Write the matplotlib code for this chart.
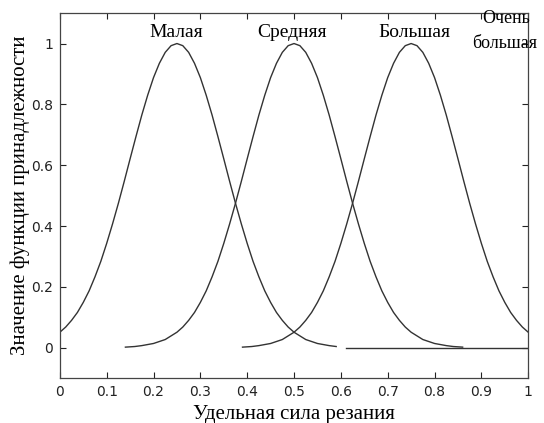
import numpy as np
import matplotlib.pyplot as plt

# half-profile of one bell curve (offset from peak -> value)
offsets = [0.0, 0.0125, 0.025, 0.0375, 0.05, 0.0625, 0.075, 0.0875, 0.1, 0.1125,
           0.125, 0.1375, 0.15, 0.1625, 0.175, 0.1875, 0.2, 0.2125, 0.225, 0.2375,
           0.25, 0.275, 0.3, 0.325, 0.34, 0.35, 0.36]
values = [1.0, 0.993, 0.971, 0.935, 0.888, 0.830, 0.765, 0.694, 0.621, 0.547,
          0.475, 0.407, 0.343, 0.284, 0.233, 0.187, 0.149, 0.116, 0.090, 0.068,
          0.051, 0.027, 0.014, 0.007, 0.004, 0.003, 0.002]

# peaks and visible extents of each drawn curve
centers = [0.25, 0.5, 0.75]
x_start = [0.0, 0.14, 0.39]
x_end = [0.59, 0.86, 1.0]

# flat stretch at zero on the right
x_tail = [0.61, 1.0]
y_tail = [0.0, 0.0]

labels = ['Малая', 'Средняя', 'Большая']
label_x = [0.248, 0.496, 0.756]

xticks = [0, 0.1, 0.2, 0.3, 0.4, 0.5, 0.6, 0.7, 0.8, 0.9, 1]
xtick_labels = ['0', '0.1', '0.2', '0.3', '0.4', '0.5', '0.6', '0.7', '0.8', '0.9', '1']
yticks = [0, 0.2, 0.4, 0.6, 0.8, 1]
ytick_labels = ['0', '0.2', '0.4', '0.6', '0.8', '1']

serif = 'Liberation Serif'
col = '#333333'

fig = plt.figure(figsize=(5.44, 4.23), dpi=100)
ax = fig.add_axes([0.110, 0.106, 0.861, 0.863])

off = np.array(offsets)
val = np.array(values)
for c, a, b in zip(centers, x_start, x_end):
    xs = np.concatenate([c - off[::-1], c + off[1:]])
    ys = np.concatenate([val[::-1], val[1:]])
    keep = (xs >= a - 1e-9) & (xs <= b + 1e-9)
    ax.plot(xs[keep], ys[keep], color=col, lw=1.0)
ax.plot(x_tail, y_tail, color=col, lw=1.0)

ax.set_xlim(0, 1)
ax.set_ylim(-0.1, 1.1)
ax.set_xticks(xticks)
ax.set_xticklabels(xtick_labels)
ax.set_yticks(yticks)
ax.set_yticklabels(ytick_labels)
ax.tick_params(direction='in', top=True, right=True, length=4, labelsize=10,
               colors='#222222', pad=5)
for s in ax.spines.values():
    s.set_color('#444444')
    s.set_linewidth(0.9)

for lab, lx in zip(labels, label_x):
    ax.text(lx, 1.037, lab, ha='center', va='center', fontsize=14, family=serif)
ax.text(0.953, 1.083, 'Очень', ha='center', va='center', fontsize=13, family=serif,
        clip_on=False)
ax.text(0.949, 1.0, 'большая', ha='center', va='center', fontsize=13, family=serif,
        clip_on=False)

ax.set_xlabel('Удельная сила резания', fontsize=15, family=serif, labelpad=4)
ax.set_ylabel('Значение функции принадлежности', fontsize=15, family=serif, labelpad=1)

fig.savefig('out.png', dpi=100)
